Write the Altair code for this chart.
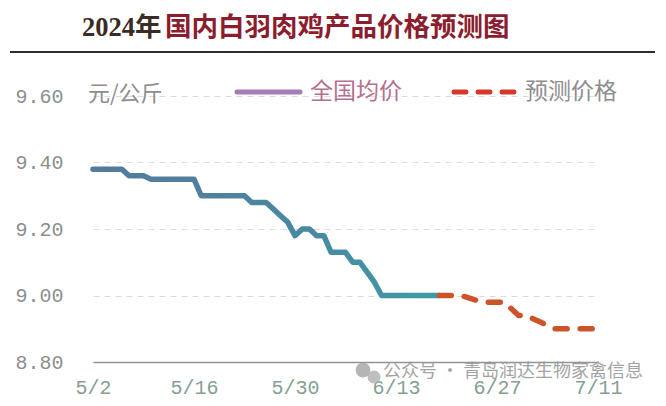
import json
import altair as alt
import pandas as pd

# ---------------- data ----------------
start_date = "2024-05-02"
# daily national average price, 5/2 .. 6/19 (元/公斤)
actual_values = [
    9.38, 9.38, 9.38, 9.38, 9.38,
    9.36, 9.36, 9.36,
    9.35, 9.35, 9.35, 9.35, 9.35, 9.35, 9.35,
    9.30, 9.30, 9.30, 9.30, 9.30, 9.30, 9.30,
    9.28, 9.28, 9.28,
    9.26, 9.24, 9.22, 9.18,
    9.20, 9.20,
    9.18, 9.18,
    9.13, 9.13, 9.13,
    9.10, 9.10,
    9.07, 9.04,
    9.00, 9.00, 9.00, 9.00, 9.00, 9.00, 9.00, 9.00, 9.00,
]
forecast_dates = ["2024-06-19", "2024-06-22", "2024-06-25", "2024-06-28", "2024-06-30",
                  "2024-07-01", "2024-07-03", "2024-07-05", "2024-07-11"]
forecast_values = [9.00, 9.00, 8.98, 8.98, 8.94, 8.94, 8.92, 8.90, 8.90]

tick_dates = ["2024-05-02", "2024-05-16", "2024-05-30", "2024-06-13", "2024-06-27", "2024-07-11"]
tick_labels = ["5/2", "5/16", "5/30", "6/13", "6/27", "7/11"]
y_ticks = [8.80, 9.00, 9.20, 9.40, 9.60]

title_year = "2024年"
title_rest = "国内白羽肉鸡产品价格预测图"
unit_text = "元/公斤"
legend_actual = "全国均价"
legend_forecast = "预测价格"
watermark = "公众号 · 青岛润达生物家禽信息"

# ---------------- tables ----------------
start = pd.Timestamp(start_date)
actual_days = pd.date_range(start, periods=len(actual_values), freq="D")
actual = pd.DataFrame({"day": (actual_days - start).days, "price": actual_values})
forecast = pd.DataFrame({
    "day": [(pd.Timestamp(d) - start).days for d in forecast_dates],
    "price": forecast_values,
})
tick_days = [(pd.Timestamp(d) - start).days for d in tick_dates]
label_map = json.dumps(dict(zip([str(d) for d in tick_days], tick_labels)))

one = pd.DataFrame({"k": [0]})

MONO = "Liberation Mono"
CJK = "Noto Sans CJK SC"
SERIF = "Liberation Serif, Noto Sans CJK SC"

x_enc = alt.X(
    "day:Q",
    scale=alt.Scale(domain=[0, 70], nice=False, zero=False),
    axis=alt.Axis(
        values=tick_days,
        labelExpr=f"{label_map}[''+datum.value]",
        title=None, grid=False, ticks=False,
        domainColor="#8c9892", domainWidth=1.5,
        labelFont=MONO, labelFontSize=20, labelColor="#84a092",
        labelPadding=15, labelFlush=False, labelOverlap=False,
    ),
)
y_enc = alt.Y(
    "price:Q",
    scale=alt.Scale(domain=[8.8, 9.6], nice=False, zero=False),
    axis=alt.Axis(
        values=y_ticks, format=".2f", title=None,
        domain=False, ticks=False,
        grid=True, gridDash=[6, 5], gridColor="#dcdcdc", gridWidth=1,
        labelFont=MONO, labelFontSize=20, labelColor="#8a8f8c",
        labelPadding=30, labelFlush=False,
    ),
)

grad = alt.Gradient(
    gradient="linear",
    stops=[
        alt.GradientStop(color="#567a9b", offset=0),
        alt.GradientStop(color="#4c849f", offset=0.5),
        alt.GradientStop(color="#3a9ba8", offset=1),
    ],
    x1=0, x2=1, y1=0, y2=0,
)

actual_line = alt.Chart(actual).mark_line(
    stroke=grad, strokeWidth=5.5, strokeJoin="round", strokeCap="round"
).encode(x=x_enc, y=y_enc)

forecast_line = alt.Chart(forecast).mark_line(
    color="#cc5428", strokeWidth=5.5, strokeDash=[12, 13], strokeCap="round", strokeJoin="round"
).encode(x="day:Q", y="price:Q")

# ---------------- annotations (positions relative to plot origin) ----------------
title_dark = alt.Chart(one).mark_text(
    text=title_year, font=SERIF, fontSize=26.5, fontWeight="bold",
    color="#3a2b24", align="left", baseline="middle",
).encode(x=alt.value(-11), y=alt.value(-68))
title_red = alt.Chart(one).mark_text(
    text=title_rest, font=SERIF, fontSize=26.5, fontWeight="bold",
    color="#8c1d2e", align="left", baseline="middle",
).encode(x=alt.value(72), y=alt.value(-68))

top_rule = alt.Chart(one).mark_rule(color="#352a2a", strokeWidth=2).encode(
    x=alt.value(-83), x2=alt.value(562), y=alt.value(-44)
)

unit = alt.Chart(one).mark_text(
    text=unit_text, font=CJK, fontSize=22, color="#8e8e8e", align="left", baseline="middle"
).encode(x=alt.value(-5), y=alt.value(-2))

leg1_line = alt.Chart(one).mark_rule(color="#a67cb4", strokeWidth=5, strokeCap="round").encode(
    x=alt.value(144), x2=alt.value(207), y=alt.value(-4)
)
leg1_text = alt.Chart(one).mark_text(
    text=legend_actual, font=CJK, fontSize=23, color="#b56f90", align="left", baseline="middle"
).encode(x=alt.value(217), y=alt.value(-4))

leg2_line = alt.Chart(one).mark_rule(
    color="#d6392b", strokeWidth=5, strokeCap="round", strokeDash=[12, 12]
).encode(x=alt.value(361), x2=alt.value(426), y=alt.value(-4))
leg2_text = alt.Chart(one).mark_text(
    text=legend_forecast, font=CJK, fontSize=23, color="#8e8e8e", align="left", baseline="middle"
).encode(x=alt.value(432), y=alt.value(-4))

wm_icon1 = alt.Chart(one).mark_point(
    shape="circle", filled=True, size=220, color="#a8a8a8", opacity=0.85
).encode(x=alt.value(270), y=alt.value(274))
wm_icon2 = alt.Chart(one).mark_point(
    shape="circle", filled=True, size=170, color="#b4b4b4", opacity=0.85
).encode(x=alt.value(281), y=alt.value(281))
wm_text = alt.Chart(one).mark_text(
    text=watermark, font=CJK, fontSize=18, color="#9a9a9a", opacity=0.9,
    align="left", baseline="middle",
).encode(x=alt.value(290), y=alt.value(276))

chart = alt.layer(
    actual_line, forecast_line,
    top_rule, title_dark, title_red,
    unit, leg1_line, leg1_text, leg2_line, leg2_text,
    wm_icon1, wm_icon2, wm_text,
).properties(
    width=505, height=266,
    padding={"left": 85, "top": 88, "right": 60, "bottom": 36},
    autosize=alt.AutoSizeParams(type="none"),
    background="white",
).configure_view(stroke=None)

chart.save("out.html", embed_options={"renderer": "svg", "actions": False})
